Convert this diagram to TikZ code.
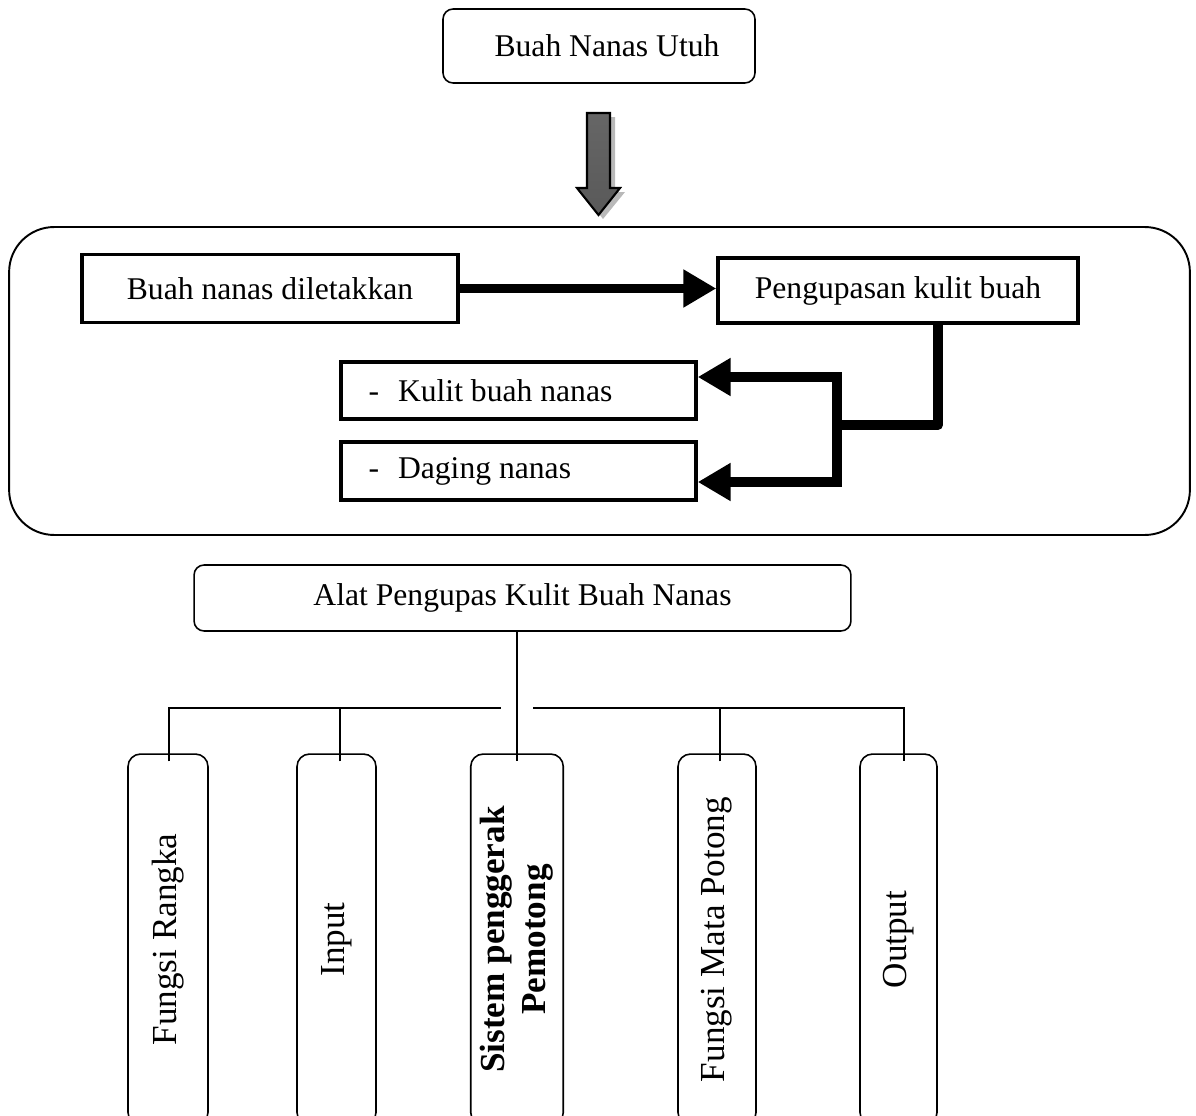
\documentclass[tikz,border=0pt]{standalone}
\usepackage{fontspec}
\setmainfont{Liberation Serif}
\usepackage{graphicx}
\usetikzlibrary{arrows.meta, positioning}

\begin{document}
\begin{tikzpicture}[x=0.02cm, y=-0.02cm,
        every node/.style={font=\fontsize{18}{22}\selectfont, align=center},
        rbox/.style={rectangle, rounded corners=0.2cm, draw=black, line width=0.9pt},
        sbox/.style={rectangle, draw=black, line width=2pt, minimum height=1.36cm},
        lbox/.style={rectangle, draw=black, line width=2pt, minimum width=7.1cm},
        vbox/.style={rectangle, rounded corners=0.25cm, draw=black, line width=0.9pt, minimum height=7.42cm, font=\fontsize{20}{23}\selectfont},
        panel/.style={rectangle, rounded corners=0.9cm, draw=black, line width=1.1pt},
        flow/.style={line width=5.6pt, -{Triangle[length=0.66cm, width=0.72cm]}},
        flowline/.style={line width=5.6pt, line join=round},
        tree/.style={line width=0.9pt}
    ]
        \useasboundingbox (0,0) rectangle (1196,1115);
        \clip (0,0) rectangle (1196,1115);

        % Bagian atas
        \node[rbox, minimum width=6.24cm, minimum height=1.48cm] (utuh) at (599,46) {\hspace{0.32cm}Buah Nanas Utuh};

        % Panah besar
        \fill[gray!55] (592,117) -- (615,117) -- (615,192) -- (625,192) -- (603,219) -- (582,192) -- (592,192) -- cycle;
        \shadedraw[draw=black, line width=1.2pt, top color=black!60, middle color=black, bottom color=black!65]
            (587,113) -- (610,113) -- (610,188) -- (620,188) -- (598.5,215) -- (577,188) -- (587,188) -- cycle;

        % Proses pengupasan
        \node[panel, minimum width=23.62cm, minimum height=6.16cm] (proses) at (599.5,381) {};
        \node[sbox, minimum width=7.52cm] (letak) at (270,288.5) {Buah nanas diletakkan};
        \node[sbox, minimum width=7.2cm, minimum height=1.3cm] (kupas) at (898,290.5) {Pengupasan kulit buah};
        \node[lbox, minimum height=1.14cm] (kulit) at (518.5,390.5) {\makebox[6.0cm][l]{-\hspace{0.6em}Kulit buah nanas}};
        \node[lbox, minimum height=1.16cm] (daging) at (518.5,471) {\makebox[6.0cm][l]{-\hspace{0.6em}Daging nanas}};

        % Panah proses
        \coordinate (cabang) at (837,425);
        \draw[flow] (letak.east) -- (letak.east -| kupas.west);
        \draw[flowline] ([shift={(40,0)}]kupas.south) |- (cabang);
        \draw[flow] (cabang) |- ([shift={(0,-13.5)}]kulit.east);
        \draw[flow] (cabang) |- ([shift={(0,11)}]daging.east);

        % Struktur alat
        \node[rbox, minimum width=13.14cm, minimum height=1.32cm] (alat) at (522.5,598) {Alat Pengupas Kulit Buah Nanas};
        \node[vbox, minimum width=1.6cm]  (rangka) at (168,939.5)   {\rotatebox{90}{Fungsi Rangka}};
        \node[vbox, minimum width=1.58cm] (input)  at (336.5,939.5) {\rotatebox{90}{Input}};
        \node[vbox, minimum width=1.8cm]  (sistem) at (517,939.5)   {\rotatebox{90}{\bfseries\begin{tabular}{@{}c@{}}Sistem penggerak\\Pemotong\end{tabular}}};
        \node[vbox, minimum width=1.56cm] (mata)   at (717,939.5)   {\rotatebox{90}{Fungsi Mata Potong}};
        \node[vbox, minimum width=1.54cm] (output) at (898.5,939.5) {\rotatebox{90}{Output}};

        % Garis cabang
        \coordinate (busl) at (501,708);
        \coordinate (busr) at (533,708);
        \draw[tree] (sistem.north |- alat.south) -- ([shift={(0,8)}]sistem.north);
        \draw[tree] ([shift={(1,8)}]rangka.north) |- (busl);
        \draw[tree] ([shift={(3.5,8)}]input.north) -- ++(0,-54);
        \draw[tree] (busr) -| ([shift={(5.5,8)}]output.north);
        \draw[tree] ([shift={(3,8)}]mata.north) -- ++(0,-54);
\end{tikzpicture}
\end{document}
